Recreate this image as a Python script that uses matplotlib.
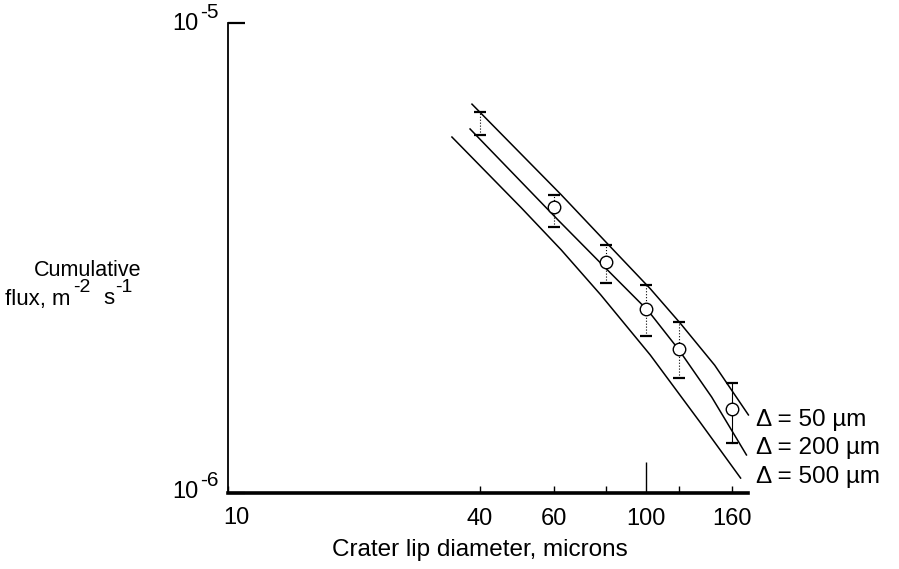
import numpy as np
import matplotlib
matplotlib.use("Agg")
import matplotlib.pyplot as plt
from matplotlib.ticker import FixedLocator, FixedFormatter, NullFormatter

plt.rcParams['font.family'] = ['Liberation Sans', 'DejaVu Sans']

# model curves, one per crater spacing
x_50 = [38.3, 62.6, 81.3, 102.2, 120.4, 145.7, 175.4]
y_50 = [6.72e-6, 4.31e-6, 3.37e-6, 2.72e-6, 2.30e-6, 1.87e-6, 1.466e-6]
x_200 = [37.9, 61.5, 80.8, 101.1, 119.7, 143.3, 173.5]
y_200 = [5.95e-6, 3.81e-6, 2.98e-6, 2.44e-6, 2.015e-6, 1.60e-6, 1.205e-6]
x_500 = [34.3, 50.3, 62.6, 77.8, 102.2, 134.3, 168.0]
y_500 = [5.72e-6, 4.04e-6, 3.29e-6, 2.64e-6, 1.966e-6, 1.416e-6, 1.076e-6]
curve_labels = ['\u0394 = 50 \u00b5m', '\u0394 = 200 \u00b5m', '\u0394 = 500 \u00b5m']
label_y = [1.43e-6, 1.247e-6, 1.08e-6]

# measured fluxes with error range
pt_x = [40, 60, 80, 100, 120, 160]
pt_y = [None, 4.06e-6, 3.10e-6, 2.46e-6, 2.02e-6, 1.51e-6]
pt_hi = [6.47e-6, 4.31e-6, 3.37e-6, 2.77e-6, 2.31e-6, 1.71e-6]
pt_lo = [5.78e-6, 3.68e-6, 2.80e-6, 2.16e-6, 1.76e-6, 1.28e-6]

W, H = 899, 569
fig = plt.figure(figsize=(W / 100, H / 100), dpi=100)
ax = fig.add_axes([228 / W, 1 - 493 / H, (748 - 228) / W, (493 - 23) / H])
ax.set_xscale('log')
ax.set_yscale('log')
ax.set_xlim(10, 175)
ax.set_ylim(1e-6, 1e-5)

for xs, ys in [(x_50, y_50), (x_200, y_200), (x_500, y_500)]:
    ax.plot(xs, ys, color='black', lw=1.1, clip_on=False)

for i in range(len(pt_x)):
    ls = '-' if pt_x[i] == 160 else ':'
    ax.plot([pt_x[i], pt_x[i]], [pt_lo[i], pt_hi[i]], color='black', lw=0.8, ls=ls)
    ax.plot([pt_x[i]], [pt_hi[i]], marker='_', ms=9, mew=1.6, color='black')
    ax.plot([pt_x[i]], [pt_lo[i]], marker='_', ms=9, mew=1.6, color='black')
    if pt_y[i] is not None:
        ax.plot([pt_x[i]], [pt_y[i]], marker='o', ms=9, mfc='white', mec='black',
                mew=1.0, zorder=5)

for lab, yy in zip(curve_labels, label_y):
    ax.text(183, yy, lab, fontsize=17.5, va='center', ha='left', clip_on=False)

ax.spines['top'].set_visible(False)
ax.spines['right'].set_visible(False)
ax.spines['bottom'].set_linewidth(2.6)
ax.spines['left'].set_linewidth(1.3)

ax.xaxis.set_major_locator(FixedLocator([100]))
ax.xaxis.set_major_formatter(FixedFormatter(['100']))
ax.xaxis.set_minor_locator(FixedLocator([10, 40, 60, 80, 120, 160]))
ax.xaxis.set_minor_formatter(FixedFormatter(['', '40', '60', '', '', '160']))
ax.tick_params(axis='x', which='major', direction='in', length=22, width=1.0,
               pad=11, labelsize=17)
ax.tick_params(axis='x', which='minor', direction='in', length=5, width=1.0,
               pad=11, labelsize=17)
# the "10" label sits a little right of the axis corner
fig.text(236 / W, 1 - 518 / H, '10', fontsize=17, ha='center', va='center')

ax.yaxis.set_major_locator(FixedLocator([1e-6, 1e-5]))
ax.yaxis.set_major_formatter(NullFormatter())
ax.yaxis.set_minor_locator(FixedLocator([]))
ax.yaxis.set_minor_formatter(NullFormatter())
ax.tick_params(axis='y', which='major', direction='in', length=12, width=1.6)

# y tick labels as "10" with a raised exponent
for base_y, exp in [(492, '-6'), (24, '-5')]:
    fig.text(199 / W, 1 - base_y / H, '10', fontsize=17, ha='right', va='center')
    fig.text(200 / W, 1 - (base_y - 12) / H, exp, fontsize=15, ha='left', va='center')

fig.text(88 / W, 1 - 270 / H, 'Cumulative', fontsize=15.5, ha='center', va='center')
fig.text(5 / W, 1 - 299 / H, 'flux, m', fontsize=16, ha='left', va='center')
fig.text(73 / W, 1 - 288 / H, '-2', fontsize=14, ha='left', va='center')
fig.text(103 / W, 1 - 299 / H, 's', fontsize=16, ha='left', va='center')
fig.text(115 / W, 1 - 288 / H, '-1', fontsize=14, ha='left', va='center')
fig.text(480 / W, 1 - 550 / H, 'Crater lip diameter, microns', fontsize=17.5,
         ha='center', va='center')

fig.savefig('out.png', dpi=100)
